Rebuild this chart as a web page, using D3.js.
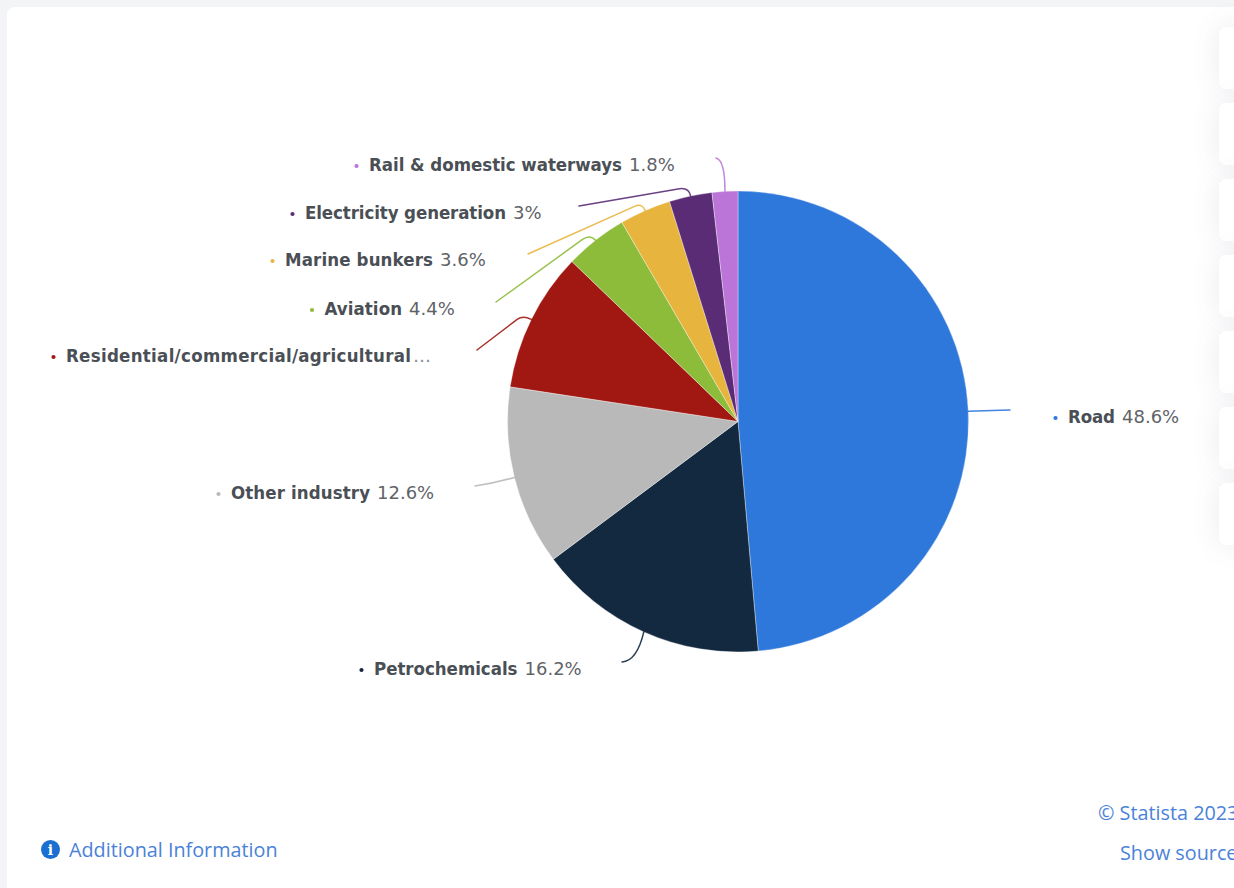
<!DOCTYPE html>
<html>
<head>
<meta charset="utf-8">
<script src="https://cdn.jsdelivr.net/npm/d3@7"></script>
<style>
  html, body { margin: 0; padding: 0; width: 1234px; height: 888px; overflow: hidden; background: #f3f4f6; }
  #card { position: absolute; left: 7px; top: 7px; width: 1300px; height: 950px; background: #fff; border-radius: 8px; }
  .side { position: absolute; left: 1219px; width: 60px; height: 62px; background: #fff; border-radius: 7px; box-shadow: 0 0 28px rgba(90,100,130,0.13); }
  svg { position: absolute; left: 0; top: 0; }
  .name { font-family: "DejaVu Sans Condensed", "DejaVu Sans", sans-serif; font-stretch: condensed; font-weight: 700; font-size: 18.5px; fill: #4a4f55; }
  .val { font-family: "DejaVu Sans", sans-serif; font-weight: 400; font-size: 18px; fill: #5f6368; }
  .more { fill: #8a8f94; }
  .link { font-family: "Open Sans", sans-serif; font-size: 19.8px; fill: #4a82d8; }
</style>
</head>
<body>
<div id="card"></div>
<script>
// Share of oil demand by sector, in percent
const sectors = ["Road", "Petrochemicals", "Other industry", "Residential/commercial/agricultural", "Aviation", "Marine bunkers", "Electricity generation", "Rail & domestic waterways"];
const shares = [48.6, 16.2, 12.6, 9.8, 4.4, 3.6, 3, 1.8];
const colors = ["#2e77db", "#13293f", "#b9b9b9", "#a01811", "#8dbb3a", "#e7b53d", "#5a2c75", "#bb75d8"];
const valueLabels = ["48.6%", "16.2%", "12.6%", "…", "4.4%", "3.6%", "3%", "1.8%"];

// Label placement: text start, vertical middle and rendered width of each sector name
const labelX = [1068, 374, 231, 66, 324.5, 285, 305, 369];
const labelY = [417, 669, 493, 356, 309, 260, 213, 165];
const nameWidths = [47, 143.5, 139, 345, 77.5, 148, 201, 253];
// Leader lines: elbow point, far end and how much of the run is rounded
const elbows = [[990, 410.5], [637, 661], [495, 483], [523, 315], [590, 234], [642, 203], [689, 187], [725, 160]];
const leaderEnds = [[1010, 410], [622, 662], [475, 486], [477, 350], [496, 302], [528, 254], [579, 206], [716, 158]];
const bends = [0.12, 1, 1, 0.12, 0.08, 0.06, 0.1, 1];

const W = 1234, H = 888, cx = 738, cy = 421.5, R = 230.5;

// Side buttons along the right edge of the card
d3.select("body").selectAll("div.side")
  .data([27, 103, 179, 255, 331, 407, 483])
  .join("div").attr("class", "side").style("top", d => d + "px");

const svg = d3.select("body").append("svg").attr("width", W).attr("height", H);

const pie = d3.pie().value(d => d).sort(null);
const arcs = pie(shares);
const arc = d3.arc().innerRadius(0).outerRadius(R);
const g = svg.append("g").attr("transform", `translate(${cx},${cy})`);

g.selectAll("path").data(arcs).join("path")
  .attr("d", arc)
  .attr("fill", (d, i) => colors[i])
  .attr("stroke", "#fff").attr("stroke-width", 1).attr("stroke-opacity", 0.35);

// Leader lines start on the rim at each slice's middle angle
const rim = d => {
  const a = (d.startAngle + d.endAngle) / 2;
  return [cx + R * Math.sin(a), cy - R * Math.cos(a)];
};
svg.append("g").selectAll("path").data(arcs).join("path")
  .attr("fill", "none")
  .attr("stroke", (d, i) => colors[i])
  .attr("stroke-width", 1.5)
  .attr("stroke-opacity", 0.9)
  .attr("stroke-linecap", "round")
  .attr("d", (d, i) => {
    const p = d3.path();
    const s = rim(d), e = elbows[i], t = leaderEnds[i], k = bends[i];
    p.moveTo(s[0], s[1]);
    p.quadraticCurveTo(e[0], e[1], e[0] + (t[0] - e[0]) * k, e[1] + (t[1] - e[1]) * k);
    p.lineTo(t[0], t[1]);
    return p.toString();
  });

// Sector labels with a small coloured bullet
const labels = svg.append("g").selectAll("g").data(sectors).join("g")
  .attr("transform", (d, i) => `translate(${labelX[i]},${labelY[i]})`);
labels.append("circle").attr("cx", -12.5).attr("cy", 1).attr("r", 2.1)
  .attr("fill", (d, i) => colors[i]);
labels.append("text").attr("class", "name").attr("dy", "0.35em")
  .attr("textLength", (d, i) => nameWidths[i]).attr("lengthAdjust", "spacing")
  .text(d => d);
labels.append("text").attr("dy", "0.35em")
  .attr("class", (d, i) => valueLabels[i] === "…" ? "val more" : "val")
  .attr("x", (d, i) => nameWidths[i] + (valueLabels[i] === "…" ? 2 : 7))
  .text((d, i) => valueLabels[i]);

// Footer links
svg.append("circle").attr("cx", 50.5).attr("cy", 849.5).attr("r", 9.5).attr("fill", "#1a6fd0");
svg.append("text").attr("x", 50.5).attr("y", 855)
  .attr("text-anchor", "middle").attr("fill", "#fff")
  .style("font", "700 14px 'DejaVu Serif', serif").text("i");
svg.append("text").attr("class", "link").attr("x", 69).attr("y", 857).text("Additional Information");
svg.append("text").attr("class", "link").attr("x", 1098).attr("y", 820).text("© Statista 2023");
svg.append("text").attr("class", "link").attr("x", 1120).attr("y", 860).text("Show source");
</script>
</body>
</html>
